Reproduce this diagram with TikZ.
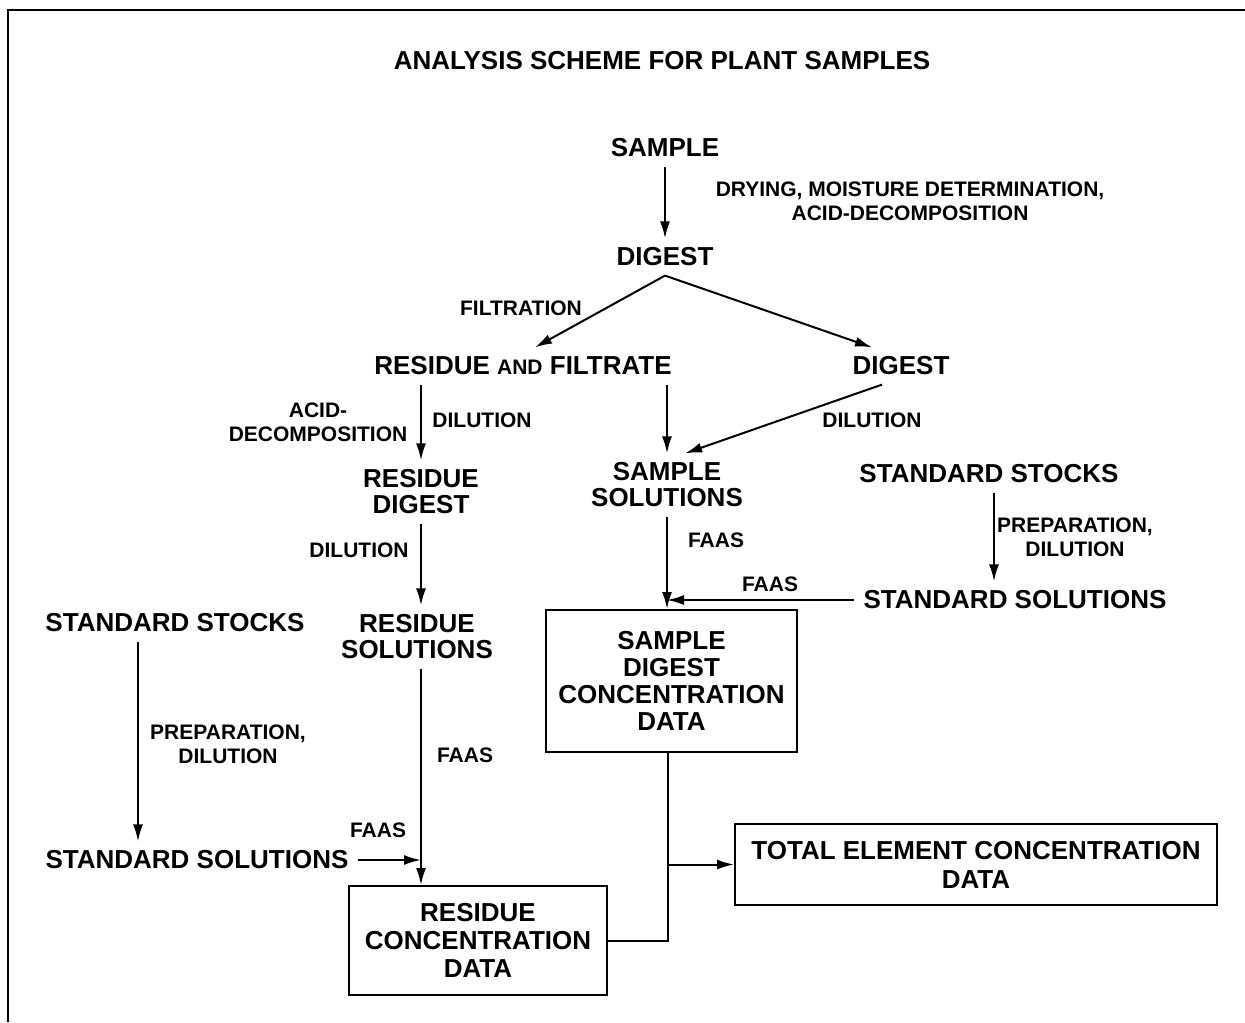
\documentclass[tikz,border=0pt]{standalone}
\usepackage{fontspec}
\setmainfont{Liberation Sans}
\usetikzlibrary{arrows.meta}
\begin{document}
\begin{tikzpicture}[x=0.5pt,y=-0.5pt,
  big/.style={font=\bfseries\fontsize{13pt}{13pt}\selectfont, align=center, inner sep=4.5pt},
  lab/.style={font=\bfseries\fontsize{10.5pt}{12pt}\selectfont, align=center, inner sep=0pt},
  databox/.style={draw, line width=1pt, align=center, inner sep=0pt},
  arr/.style={line width=1pt, -{Latex[length=8.5pt,width=5pt]}},
  link/.style={line width=1pt}]
\useasboundingbox (0,0) rectangle (1245,1022);

% frame
\draw[line width=1.2pt] (1245,10) -- (8,10) -- (8,1022);

% title
\node[big] (title) at (662,61) {ANALYSIS SCHEME FOR PLANT SAMPLES};

% main column
\node[big] (sample) at (665,148) {SAMPLE};
\node[lab] (drylab) at (910,201) {DRYING, MOISTURE DETERMINATION,\\ACID-DECOMPOSITION};
\node[big] (digest) at (665,257) {DIGEST};
\node[lab] (filt) at (521,308) {FILTRATION};
\node[big] (raf) at (523,366) {RESIDUE {\fontsize{10.5pt}{10.5pt}\selectfont AND} FILTRATE};
\node[big] (rdig) at (901,366) {DIGEST};

\node[lab] (acid) at (318,422) {ACID-\\DECOMPOSITION};
\node[lab] (dil1) at (482,420) {DILUTION};
\node[lab] (dil2) at (872,420) {DILUTION};

\node[big] (resdig) at (421,492) {RESIDUE\\DIGEST};
\node[big] (ss) at (667,485) {SAMPLE\\SOLUTIONS};

\node[big] (stk) at (989,474) {STANDARD STOCKS};
\node[lab] (prep1) at (1075,537) {PREPARATION,\\DILUTION};
\node[lab] (dil3) at (359,550) {DILUTION};
\node[lab] (faas1) at (716,540) {FAAS};
\node[lab] (faas2) at (770,584) {FAAS};
\node[big] (std) at (1015,600) {STANDARD SOLUTIONS};

\node[big] (ressol) at (417,637) {RESIDUE\\SOLUTIONS};
\node[databox, minimum width=125.5pt, minimum height=71pt,
      font=\bfseries\fontsize{13pt}{13.5pt}\selectfont] (sdbox) at (671.5,681)
      {SAMPLE\\DIGEST\\CONCENTRATION\\DATA};

% left column
\node[big] (stk2) at (175,623) {STANDARD STOCKS};
\node[lab] (prep2) at (228,744) {PREPARATION,\\DILUTION};
\node[lab] (faas3) at (465,755) {FAAS};
\node[lab] (faas4) at (378,830) {FAAS};
\node[big] (std2) at (197,860) {STANDARD SOLUTIONS};

\node[databox, minimum width=129pt, minimum height=54.5pt,
      font=\bfseries\fontsize{13pt}{14pt}\selectfont] (rbox) at (478,940.5)
      {RESIDUE\\CONCENTRATION\\DATA};
\node[databox, minimum width=241pt, minimum height=40.5pt,
      font=\bfseries\fontsize{13pt}{14.5pt}\selectfont] (tbox) at (976,864.5)
      {TOTAL ELEMENT CONCENTRATION\\DATA};

% column positions for vertical connectors
\coordinate (lcol) at (138,0);
\coordinate (rcol) at (994,0);
\coordinate (mcol) at (668,0);

% connectors
\draw[arr] (sample.south) -- (digest.north);
\draw[arr] (digest.south) -- ([xshift=6pt]raf.north);
\draw[arr] (digest.south) -- ([xshift=-14.5pt]rdig.north);
\draw[arr] (raf.south -| resdig.north) -- (resdig.north);
\draw[arr] (raf.south -| ss.north) -- (ss.north);
\draw[arr] ([xshift=-9.5pt]rdig.south) -- ([xshift=9pt]ss.north);
\draw[arr] (resdig.south) -- (resdig.south |- ressol.north);
\draw[arr] (resdig.south |- ressol.south) -- (resdig.south |- rbox.north);
\draw[arr] (stk2.south -| lcol) -- (std2.north -| lcol);
\draw[arr] (std2.east) -- (std2.east -| resdig.south);
\draw[arr] (stk.south -| rcol) -- (std.north -| rcol);
\draw[arr] (std.west) -- (std.west -| ss.south);
\draw[arr] (ss.south) -- (ss.south |- sdbox.north);
\draw[link] (rbox.east) -- (rbox.east -| mcol) -- (sdbox.south -| mcol);
\draw[arr] (tbox.west -| mcol) -- (tbox.west);
\end{tikzpicture}
\end{document}
